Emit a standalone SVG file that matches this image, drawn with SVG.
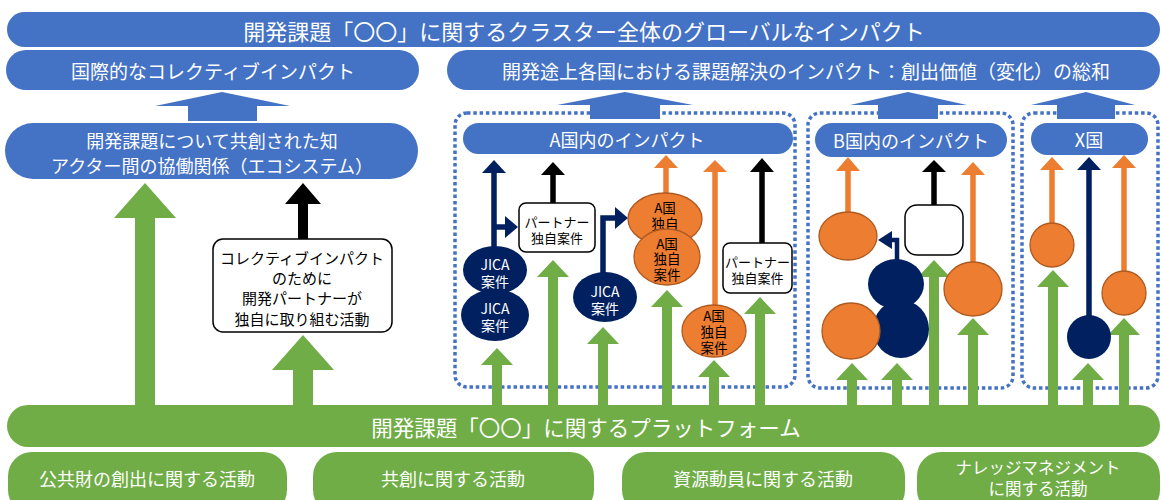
<svg xmlns="http://www.w3.org/2000/svg" width="1161" height="500" viewBox="0 0 1161 500">
<style>
text{font-family:"Noto Sans CJK JP","Noto Sans",sans-serif;text-anchor:middle;dominant-baseline:central}
.blue{fill:#4472C4}
.green{fill:#70AD47}
.wt{fill:#ffffff}
.bt{fill:#000000}
.frame{fill:none;stroke:#4472C4;stroke-width:3.5;stroke-dasharray:3.5 2.8}
.navy{fill:#002060}
.orange{fill:#ED7D31;stroke:#AE5A21;stroke-width:1.3}
.box{fill:#ffffff;stroke:#000000;stroke-width:1.5}
.ln{fill:none;stroke-width:5.5}
.nl{stroke:#002060}
.ol{stroke:#ED7D31}
.kl{stroke:#000000}
</style>
<rect width="1161" height="500" fill="#ffffff"/>
<g id="frames">
<rect class="frame" x="455" y="113" width="340" height="274" rx="12"/>
<rect class="frame" x="808" y="113" width="205" height="275" rx="12"/>
<rect class="frame" x="1022" y="113" width="136" height="275" rx="12"/>
</g>
<g id="connectors">
<polygon class="blue" points="188,121 188,106 155,106 222,92 290,106 257,106 257,121"/>
<polygon class="blue" points="590,119 590,105 557,105 625,92 693,105 660,105 660,119"/>
<polygon class="blue" points="878,119 878,105 850,105 908,92 967,105 938,105 938,119"/>
<polygon class="blue" points="1057,119 1057,105 1031,105 1086,92 1135,105 1115,105 1115,119"/>
<polygon class="green" points="135,410 135,218 114,218 145,183 176,218 155,218 155,410"/>
<polygon class="green" points="293,410 293,370 272,370 303,335 334,370 313,370 313,410"/>
<polygon class="bt" points="298,240 298,204 285,204 303,183 321,204 308,204 308,240"/>
<polygon class="green" points="492,410 492,365 481,365 497,348 513,365 502,365 502,410"/>
<polygon class="green" points="548,410 548,277 537,277 553,260 569,277 558,277 558,410"/>
<polygon class="green" points="598,410 598,344 587,344 603,327 619,344 608,344 608,410"/>
<polygon class="green" points="662,410 662,307 651,307 667,290 683,307 672,307 672,410"/>
<polygon class="green" points="709,410 709,377 698,377 714,360 730,377 719,377 719,410"/>
<polygon class="green" points="755,410 755,314 744,314 760,297 776,314 765,314 765,410"/>
<polygon class="green" points="847,410 847,380 836,380 852,363 868,380 857,380 857,410"/>
<polygon class="green" points="892,410 892,380 881,380 897,363 913,380 902,380 902,410"/>
<polygon class="green" points="929,410 929,277 918,277 934,260 950,277 939,277 939,410"/>
<polygon class="green" points="968,410 968,335 957,335 973,318 989,335 978,335 978,410"/>
<polygon class="green" points="1048,410 1048,287 1037,287 1053,270 1069,287 1058,287 1058,410"/>
<polygon class="green" points="1083,410 1083,380 1072,380 1088,363 1104,380 1093,380 1093,410"/>
<polygon class="green" points="1119,410 1119,335 1108,335 1124,318 1140,335 1129,335 1129,410"/>
<line class="ln nl" x1="494" y1="250" x2="494" y2="172"/>
<polygon class="navy" points="482,173 494,160 506,173"/>
<line class="ln nl" x1="494" y1="227" x2="506" y2="227"/>
<polygon class="navy" points="505,216 518,227 505,238"/>
<line class="ln kl" x1="553" y1="204" x2="553" y2="174"/>
<polygon class="bt" points="541,175 553,162 565,175"/>
<polyline class="ln nl" points="603,276 603,218 616,218"/>
<polygon class="navy" points="615,207 628,218 615,229"/>
<line class="ln ol" x1="666" y1="200" x2="666" y2="167"/>
<polygon fill="#ED7D31" points="654,168 666,155 678,168"/>
<line class="ln ol" x1="715" y1="306" x2="715" y2="171"/>
<polygon fill="#ED7D31" points="703,172 715,160 727,172"/>
<line class="ln kl" x1="762" y1="244" x2="762" y2="171"/>
<polygon class="bt" points="750,172 762,158 774,172"/>
<line class="ln ol" x1="848" y1="213" x2="848" y2="170"/>
<polygon fill="#ED7D31" points="836,171 848,157 860,171"/>
<polyline class="ln nl" points="897,262 897,240 891,240" style="stroke-width:4.5"/>
<polygon class="navy" points="892,231 878,240 892,249"/>
<line class="ln kl" x1="934" y1="206" x2="934" y2="171"/>
<polygon class="bt" points="922,172 934,160 946,172"/>
<line class="ln ol" x1="973" y1="263" x2="973" y2="174"/>
<polygon fill="#ED7D31" points="961,175 973,162 985,175"/>
<line class="ln ol" x1="1052" y1="224" x2="1052" y2="169"/>
<polygon fill="#ED7D31" points="1040,170 1052,157 1064,170"/>
<line class="ln nl" x1="1089" y1="316" x2="1089" y2="169"/>
<polygon class="navy" points="1077,170 1089,157 1101,170"/>
<line class="ln ol" x1="1124" y1="272" x2="1124" y2="167"/>
<polygon fill="#ED7D31" points="1112,168 1124,155 1136,168"/>
</g>
<g id="top-banner">
<rect class="blue" x="7" y="12" width="1153" height="35" rx="17.5"/>
<text class="wt" x="584" y="30" font-size="22">開発課題「〇〇」に関するクラスター全体のグローバルなインパクト</text>
</g>
<g id="collective-impact">
<rect class="blue" x="6" y="50" width="413" height="40" rx="20"/>
<text class="wt" x="213" y="70.5" font-size="19">国際的なコレクティブインパクト</text>
</g>
<g id="country-impact">
<rect class="blue" x="447" y="50" width="713" height="40" rx="20"/>
<text class="wt" x="806" y="70.5" font-size="19">開発途上各国における課題解決のインパクト：創出価値（変化）の総和</text>
</g>
<g id="knowledge">
<rect class="blue" x="5" y="123" width="413" height="56" rx="28"/>
<text class="wt" font-size="18"><tspan x="212" y="140">開発課題について共創された知</tspan><tspan x="212" y="165">アクター間の協働関係（エコシステム）</tspan></text>
</g>
<g id="partner-activity">
<rect class="box" x="213" y="239" width="179" height="93" rx="10"/>
<text class="bt" font-size="15"><tspan x="302" y="257">コレクティブインパクト</tspan><tspan x="302" y="277">のために</tspan><tspan x="302" y="297">開発パートナーが</tspan><tspan x="302" y="318">独自に取り組む活動</tspan></text>
</g>
<g id="a-impact">
<rect class="blue" x="463" y="123" width="330" height="31" rx="15.5"/>
<text class="wt" x="627" y="138.5" font-size="18">A国内のインパクト</text>
</g>
<g id="a-jica1">
<ellipse class="navy" cx="495" cy="270" rx="32" ry="24"/>
<text class="wt" font-size="14"><tspan x="495" y="264">JICA</tspan><tspan x="495" y="281">案件</tspan></text>
</g>
<g id="a-jica2">
<ellipse class="navy" cx="495" cy="315" rx="34" ry="26"/>
<text class="wt" font-size="14"><tspan x="495" y="308">JICA</tspan><tspan x="495" y="325">案件</tspan></text>
</g>
<g id="a-partner1">
<rect class="box" x="519" y="203" width="76" height="49" rx="7"/>
<text class="bt" font-size="13"><tspan x="557" y="221">パートナー</tspan><tspan x="557" y="237">独自案件</tspan></text>
</g>
<g id="a-jica3">
<ellipse class="navy" cx="605" cy="297" rx="32" ry="25"/>
<text class="wt" font-size="14"><tspan x="605" y="291">JICA</tspan><tspan x="605" y="308">案件</tspan></text>
</g>
<g id="a-own1">
<ellipse class="orange" cx="665" cy="219" rx="37" ry="26"/>
<text class="bt" font-size="13.5"><tspan x="665" y="207">A国</tspan><tspan x="665" y="223">独自</tspan></text>
</g>
<g id="a-own2">
<ellipse class="orange" cx="667" cy="257" rx="33" ry="28"/>
<text class="bt" font-size="13.5"><tspan x="667" y="243">A国</tspan><tspan x="667" y="258">独自</tspan><tspan x="667" y="274">案件</tspan></text>
</g>
<g id="a-own3">
<ellipse class="orange" cx="714" cy="331" rx="32" ry="26"/>
<text class="bt" font-size="13.5"><tspan x="714" y="315">A国</tspan><tspan x="714" y="331">独自</tspan><tspan x="714" y="347">案件</tspan></text>
</g>
<g id="a-partner2">
<rect class="box" x="723" y="243" width="69" height="50" rx="7"/>
<text class="bt" font-size="13"><tspan x="757.5" y="261">パートナー</tspan><tspan x="757.5" y="277">独自案件</tspan></text>
</g>
<g id="b-impact">
<rect class="blue" x="815" y="123" width="192" height="34" rx="17"/>
<text class="wt" x="911" y="140" font-size="18">B国内のインパクト</text>
</g>
<g id="b-nodes">
<ellipse class="orange" cx="848" cy="236" rx="29" ry="24"/>
<ellipse class="navy" cx="896" cy="284" rx="28" ry="25"/>
<ellipse class="navy" cx="901" cy="329" rx="28" ry="29"/>
<ellipse class="orange" cx="851" cy="331" rx="29" ry="28"/>
<rect class="box" x="905" y="205" width="58" height="50" rx="12"/>
<ellipse class="orange" cx="973" cy="289" rx="29" ry="27"/>
</g>
<g id="x-impact">
<rect class="blue" x="1031" y="123" width="117" height="32" rx="16"/>
<text class="wt" x="1089" y="139" font-size="18">X国</text>
</g>
<g id="x-nodes">
<circle class="orange" cx="1052" cy="245" r="22"/>
<circle class="navy" cx="1089" cy="337" r="22"/>
<circle class="orange" cx="1124" cy="293" r="22"/>
</g>
<g id="platform">
<rect class="green" x="7" y="405" width="1153" height="42" rx="21"/>
<text class="wt" x="586" y="426" font-size="21.5">開発課題「〇〇」に関するプラットフォーム</text>
</g>
<g id="act1">
<rect class="green" x="8" y="452" width="279" height="62" rx="24"/>
<text class="wt" x="147" y="478" font-size="18">公共財の創出に関する活動</text>
</g>
<g id="act2">
<rect class="green" x="313" y="452" width="281" height="62" rx="24"/>
<text class="wt" x="453" y="478" font-size="18">共創に関する活動</text>
</g>
<g id="act3">
<rect class="green" x="622" y="452" width="283" height="62" rx="24"/>
<text class="wt" x="763" y="478" font-size="18">資源動員に関する活動</text>
</g>
<g id="act4">
<rect class="green" x="917" y="452" width="243" height="62" rx="24"/>
<text class="wt" font-size="16.5"><tspan x="1038" y="467">ナレッジマネジメント</tspan><tspan x="1038" y="488">に関する活動</tspan></text>
</g>
</svg>
